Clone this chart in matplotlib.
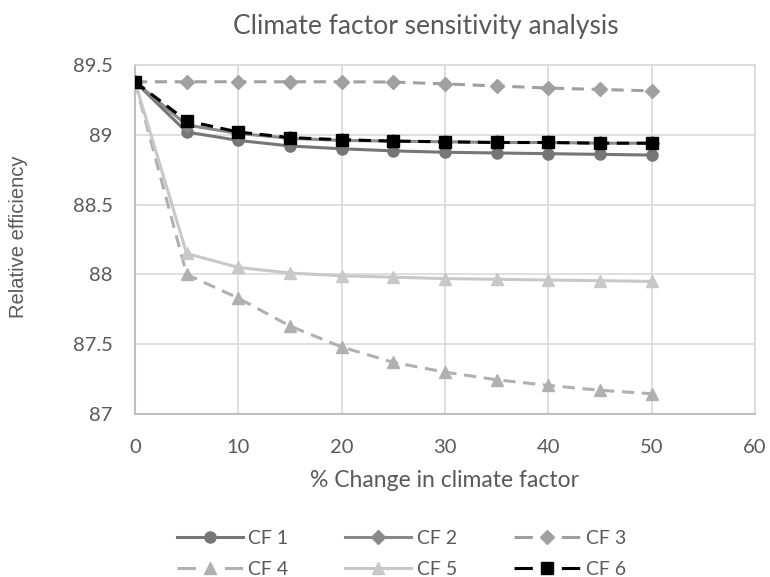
import matplotlib
matplotlib.use("Agg")
import matplotlib.pyplot as plt
from matplotlib.lines import Line2D

plt.rcParams['font.family'] = ['Lato', 'DejaVu Sans']

x = [0, 5, 10, 15, 20, 25, 30, 35, 40, 45, 50]
cf1 = [89.38, 89.02, 88.96, 88.92, 88.90, 88.885, 88.875, 88.87, 88.865, 88.86, 88.855]
cf2 = [89.38, 89.07, 89.01, 88.975, 88.96, 88.955, 88.95, 88.945, 88.945, 88.94, 88.94]
cf3 = [89.38, 89.38, 89.38, 89.38, 89.38, 89.378, 89.365, 89.35, 89.335, 89.325, 89.315]
cf4 = [89.38, 88.0, 87.83, 87.63, 87.48, 87.37, 87.30, 87.245, 87.205, 87.17, 87.145]
cf5 = [89.38, 88.15, 88.05, 88.01, 87.99, 87.98, 87.97, 87.965, 87.96, 87.955, 87.95]
cf6 = [89.38, 89.10, 89.02, 88.98, 88.965, 88.955, 88.95, 88.945, 88.945, 88.94, 88.94]
labels = ["CF 1", "CF 2", "CF 3", "CF 4", "CF 5", "CF 6"]

fig = plt.figure(figsize=(7.7, 5.77), dpi=100)
ax = fig.add_axes([0.1753, 0.2825, 0.8052, 0.6048])

dash = (0, (4, 2.5))
leg_dash = (0, (6, 9.5))
styles = [
    dict(color="#767676", ls="-", marker="o", ms=8),
    dict(color="#8a8a8a", ls="-", marker="D", ms=7),
    dict(color="#a0a0a0", ls="--", marker="D", ms=7),
    dict(color="#b0b0b0", ls="--", marker="^", ms=8),
    dict(color="#c8c8c8", ls="-", marker="^", ms=8),
    dict(color="#000000", ls="--", marker="s", ms=9),
]
series = [cf1, cf2, cf3, cf4, cf5, cf6]
order = [4, 3, 2, 0, 1, 5]
handles = [None] * 6
for i in order:
    st = styles[i]
    ls = dash if st["ls"] == "--" else "-"
    ax.plot(x, series[i], color=st["color"], linestyle=ls, marker=st["marker"],
            markersize=st["ms"], markerfacecolor=st["color"], markeredgecolor=st["color"],
            linewidth=2.2, label=labels[i], zorder=3 + i)
    lls = leg_dash if st["ls"] == "--" else "-"
    handles[i] = Line2D([], [], color=st["color"], linestyle=lls, marker=st["marker"],
                        markersize=st["ms"], markerfacecolor=st["color"],
                        markeredgecolor=st["color"], linewidth=2.2)

ax.set_xlim(0, 60)
ax.set_ylim(87, 89.5)
ax.set_xticks([0, 10, 20, 30, 40, 50, 60])
ax.set_yticks([87, 87.5, 88, 88.5, 89, 89.5])
ax.set_yticklabels(["87", "87.5", "88", "88.5", "89", "89.5"])
ax.grid(True, color="#d9d9d9", linewidth=1.2)
ax.set_axisbelow(True)
for s in ["top", "right"]:
    ax.spines[s].set_color("#d9d9d9")
    ax.spines[s].set_linewidth(1.2)
for s in ["left", "bottom"]:
    ax.spines[s].set_color("#bfbfbf")
    ax.spines[s].set_linewidth(1.5)
ax.tick_params(axis="y", length=0, labelsize=14.5, colors="#595959", pad=16)
ax.tick_params(axis="x", length=0, labelsize=14.5, colors="#595959", pad=18)

fig.text(0.553, 1 - 34 / 577, "Climate factor sensitivity analysis", fontsize=19,
         color="#595959", ha="center", va="baseline")
ax.set_xlabel("% Change in climate factor", fontsize=16.5, color="#595959", labelpad=10)
ax.set_ylabel("Relative efficiency", fontsize=14.5, color="#595959",
              family=["Liberation Sans", "DejaVu Sans"])
ax.yaxis.set_label_coords(19 / 770, 1 - 237 / 577, transform=fig.transFigure)
ax.yaxis.label.set_verticalalignment("center")

leg_order = [0, 3, 1, 4, 2, 5]
fig.legend([handles[i] for i in leg_order], [labels[i] for i in leg_order],
           ncol=3, loc="center", bbox_to_anchor=(0.521, 1 - 554 / 577), frameon=False,
           fontsize=14, labelcolor="#595959", handlelength=3.4, columnspacing=2.9,
           handletextpad=0.3, labelspacing=0.7)

fig.savefig("out.png", dpi=100)
